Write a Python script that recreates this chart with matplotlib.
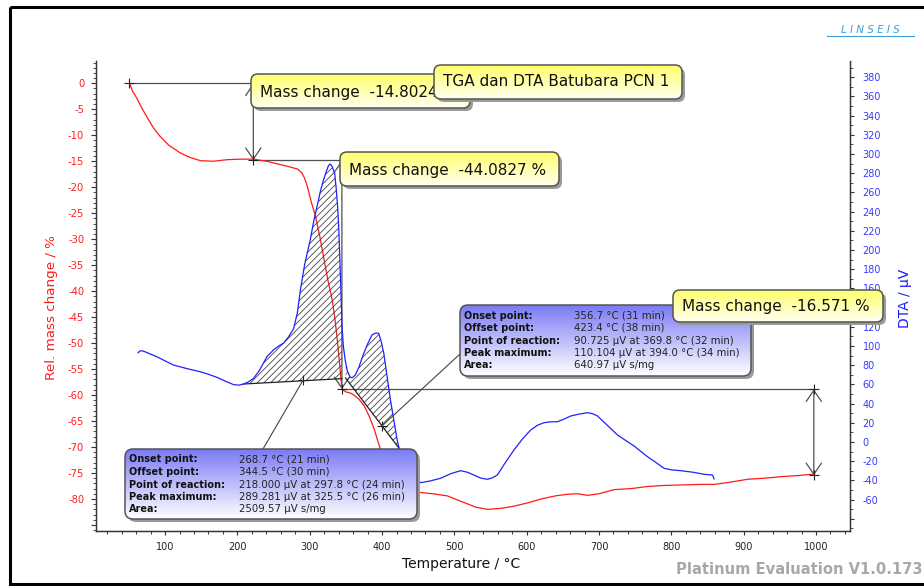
import numpy as np
import matplotlib
matplotlib.use("Agg")
import matplotlib.pyplot as plt
from matplotlib.patches import FancyBboxPatch, Rectangle, ConnectionPatch
from matplotlib.ticker import MultipleLocator, FixedLocator, FuncFormatter
from matplotlib.colors import to_rgb

plt.rcParams['font.family'] = ['DejaVu Sans']
plt.rcParams['hatch.linewidth'] = 0.6

# ---------------- data ----------------
tga_temp = [51, 55, 61, 68, 75, 84, 93, 105, 121, 135, 149, 167, 186, 205, 222, 240, 255, 270,
            283, 289, 293, 297, 302, 308, 314, 319, 325, 331, 335, 338, 341, 343, 344.5, 350,
            356, 361, 368, 375, 382, 389, 394, 398, 405, 415, 430, 450, 470, 490, 510, 530,
            546, 565, 582, 600, 620, 640, 656, 670, 684, 700, 721, 745, 767, 790, 815, 840,
            859, 880, 906, 930, 952, 975, 998]
tga_mass = [0, -1.5, -2.9, -4.8, -6.5, -8.6, -10.2, -11.9, -13.4, -14.3, -14.9, -15.0, -14.7,
            -14.6, -14.6, -15.0, -15.5, -16.0, -16.5, -17.2, -18.3, -20.0, -22.8, -25.6, -29.5,
            -33.3, -37.8, -41.6, -45.5, -49.3, -53.5, -56.5, -58.9, -59.4, -59.6, -60.0, -60.8,
            -62.0, -64.0, -66.5, -68.8, -70.5, -73.5, -76.5, -78.2, -78.7, -79.0, -79.4, -80.5,
            -81.6, -82.0, -81.8, -81.4, -80.8, -80.0, -79.4, -79.1, -79.0, -79.3, -79.0, -78.2,
            -78.0, -77.6, -77.4, -77.3, -77.2, -77.2, -76.8, -76.2, -76.0, -75.7, -75.5, -75.2]

dta_temp = [62.8, 65, 67.7, 72.3, 80, 88.5, 100, 111.5, 130, 148.5, 160, 171.6, 183, 194.6, 202,
            208.4, 215, 222.3, 230, 240.8, 250, 258, 264, 270.8, 277.7, 283, 287, 293, 300.7,
            305, 310, 315, 319, 323, 326, 328.5, 331, 334.5, 336.5, 338.6, 340, 341.4, 343,
            344.7, 346.5, 349, 352, 356, 359, 363, 368, 374.7, 380, 386, 391, 395.4, 399, 402.4,
            407, 411.6, 416, 420.9, 424, 432, 442, 453.4, 467, 480.9, 495, 508.6, 518, 527, 536,
            545.5, 552, 559.4, 570, 582.4, 594, 605.5, 615, 624, 633, 642.5, 652, 661, 672, 684,
            691, 697.9, 712, 725.6, 737, 748.6, 758, 767, 778, 790, 800, 813, 830, 845.6, 857, 859]
dta_uv = [93.0, 94.8, 95.1, 94.0, 91.5, 88.9, 84.5, 80.2, 76.5, 73.2, 70.5, 67.4, 63.5, 59.8, 59.2,
          60.4, 62.5, 66.3, 74, 88.9, 96, 100.5, 103, 109.7, 118, 135, 158, 185, 210.4,
          228, 245, 262, 272.9, 282, 288, 289.6, 287, 279.9, 265, 245, 225, 196.5, 160,
          120.1, 100, 85.4, 74, 67.4, 67, 69.8, 78, 92.4, 102, 111.5, 113.5, 113.2, 104, 92.4,
          68, 43.75, 24, 2, -8, -22, -35, -42.4, -40.5, -37.8, -33, -29.9, -31.5, -34.4, -37.5,
          -38.9, -37.5, -34.4, -22, -8.3, 3, 12.5, 17.5, 20.1, 21, 21.1, 24, 27.1, 29, 30.5,
          29.5, 27.1, 17, 7.3, 1.5, -4.2, -10, -15.3, -21, -27.4, -29, -29.9, -31.5, -33.7, -34.4, -38.5]

# mass change steps
mass_step_temp = [50, 222, 344.5, 997]
mass_levels = [0, -14.8024, -58.8851, -75.4561]
mass_change_labels = ["Mass change  -14.8024 %", "Mass change  -44.0827 %", "Mass change  -16.571 %"]

# DTA peak evaluation (baselines and reaction markers)
peak1_base_temp = [208.4, 344.5]
peak1_base_uv = [60.4, 66.0]
peak2_base_temp = [349.5, 424]
peak2_base_uv = [66.7, -7.0]
reaction_temp = [291, 400]
reaction_uv = [64.7, 16.8]

peak1_rows = [("Onset point:", "268.7 °C (21 min)"),
              ("Offset point:", "344.5 °C (30 min)"),
              ("Point of reaction:", "218.000 µV at 297.8 °C (24 min)"),
              ("Peak maximum:", "289.281 µV at 325.5 °C (26 min)"),
              ("Area:", "2509.57 µV s/mg")]
peak2_rows = [("Onset point:", "356.7 °C (31 min)"),
              ("Offset point:", "423.4 °C (38 min)"),
              ("Point of reaction:", "90.725 µV at 369.8 °C (32 min)"),
              ("Peak maximum:", "110.104 µV at 394.0 °C (34 min)"),
              ("Area:", "640.97 µV s/mg")]

title_text = "TGA dan DTA Batubara PCN 1"

# ---------------- figure ----------------
W, H = 924, 586
fig = plt.figure(figsize=(W / 100, H / 100), dpi=100)
fig.patch.set_facecolor('white')

L, R, T, B = 96, 850, 61, 530.5
ax = fig.add_axes([L / W, 1 - B / H, (R - L) / W, (B - T) / H])
ax2 = ax.twinx()
ax.patch.set_alpha(0)

RED = '#ff1a1a'
BLUE = '#2020ff'
ax.set_xlim(4.5, 1047)
ax.set_ylim(-86.07, 4.29)
ax2.set_ylim(-92.2, 396.9)

# curves
ax.plot(tga_temp, tga_mass, color=RED, lw=0.9, zorder=3)
ax2.plot(dta_temp, dta_uv, color=BLUE, lw=0.9, zorder=3)

# hatched peak areas
def hatch_peak(bt, bu):
    tt = np.linspace(bt[0], bt[1], 300)
    curve = np.interp(tt, dta_temp, dta_uv)
    base = np.interp(tt, bt, bu)
    ax2.fill_between(tt, curve, base, where=curve >= base, facecolor='none',
                     edgecolor='#444444', hatch='/////', linewidth=0, zorder=2)
    ax2.plot(bt, bu, color='#222222', lw=0.9, zorder=2.5)

hatch_peak(peak1_base_temp, peak1_base_uv)
hatch_peak(peak2_base_temp, peak2_base_uv)
ax2.plot(reaction_temp, reaction_uv, '+', color='#222222', ms=7, mew=0.8, zorder=4)

# mass change annotations
GRAY = '#505050'
for i in range(3):
    t0, t1 = mass_step_temp[i], mass_step_temp[i + 1]
    m0, m1 = mass_levels[i], mass_levels[i + 1]
    ax.plot([t0, t1], [m0, m0], color=GRAY, lw=0.9, zorder=2)
    ax.annotate('', xy=(t1, m1), xytext=(t1, m0),
                arrowprops=dict(arrowstyle='<->,head_length=0.8,head_width=0.55', color=GRAY,
                                lw=0.9, shrinkA=0, shrinkB=0, mutation_scale=10), zorder=2)
ax.plot(mass_step_temp[:-1], mass_levels[:-1], '+', color='#222222', ms=7, mew=0.8, zorder=4)
ax.plot(mass_step_temp[-1], mass_levels[-1], '+', color='#222222', ms=7, mew=0.8, zorder=4)
ax.plot(mass_step_temp[-1], mass_levels[-2], '+', color='#222222', ms=7, mew=0.8, zorder=4)

# axes styling
for a in (ax, ax2):
    a.spines['top'].set_visible(False)
    for s in ('left', 'right', 'bottom'):
        a.spines[s].set_color('#333333')
        a.spines[s].set_linewidth(0.9)

ax.xaxis.set_major_locator(MultipleLocator(100))
ax.xaxis.set_minor_locator(MultipleLocator(20))
ax.tick_params(axis='x', which='major', length=3, width=0.8, colors='#333333',
               labelsize=7, labelcolor='#222222', pad=5)
ax.tick_params(axis='x', which='minor', length=2, width=0.7, colors='#333333')

ax.yaxis.set_major_locator(FixedLocator(np.arange(-85, 1, 5)))
ax.yaxis.set_minor_locator(MultipleLocator(1))
ax.yaxis.set_major_formatter(FuncFormatter(lambda v, p: '' if v < -82 else f'{v:.0f}'))
ax.tick_params(axis='y', which='major', length=3.5, width=0.8, colors='#333333',
               labelsize=7.2, labelcolor='#ff2020', pad=5)
ax.tick_params(axis='y', which='minor', length=2, width=0.6, colors='#333333')

ax2.yaxis.set_major_locator(FixedLocator(np.arange(-80, 381, 20)))
ax2.yaxis.set_minor_locator(MultipleLocator(10))
ax2.yaxis.set_major_formatter(FuncFormatter(lambda v, p: '' if v < -70 else f'{v:.0f}'))
ax2.tick_params(axis='y', which='major', length=3, width=0.8, colors='#333333',
                labelsize=7, labelcolor='#3a3aff', pad=6)
ax2.tick_params(axis='y', which='minor', length=2, width=0.6, colors='#333333')

# ---------------- overlay (boxes, labels, frame) ----------------
ov = fig.add_axes([0, 0, 1, 1])
ov.set_zorder(10)
ov.patch.set_alpha(0)
ov.axis('off')

def gbox(x0, y0, x1, y1, ctop, cbot, z, r=7, ec='#555555'):
    w, h = x1 - x0, y1 - y0
    sh = FancyBboxPatch((x0 + 3, y0 + 3), w, h, boxstyle=f"round,pad=0,rounding_size={r}",
                        fc='#9a9a9a', ec='none', zorder=z)
    ov.add_patch(sh)
    bg = FancyBboxPatch((x0, y0), w, h, boxstyle=f"round,pad=0,rounding_size={r}",
                        fc='white', ec='none', zorder=z + 0.05)
    ov.add_patch(bg)
    c1, c2 = np.array(to_rgb(ctop)), np.array(to_rgb(cbot))
    f = np.linspace(0, 1, 64)[:, None, None]
    img = c1[None, None, :] * (1 - f) + c2[None, None, :] * f
    img = np.repeat(img, 2, axis=1)
    im = ov.imshow(img, extent=(x0, x1, y1, y0), aspect='auto', zorder=z + 0.1,
                   interpolation='bilinear')
    border = FancyBboxPatch((x0, y0), w, h, boxstyle=f"round,pad=0,rounding_size={r}",
                            fc='none', ec=ec, lw=1.1, zorder=z + 0.2)
    ov.add_patch(border)
    im.set_clip_path(border)

YT, YB = '#ffff6a', '#fffff2'
BT, BB = '#7b7bf5', '#ffffff'

# box 1 (partly covered by title)
gbox(251, 74, 470, 108, YT, YB, 1)
ov.text(260, 92, mass_change_labels[0], fontsize=11, ha='left', va='center', color='#111111', zorder=1.3)
# title box
gbox(434, 65, 682, 99, YT, YB, 2)
ov.text(443, 82, title_text, fontsize=11, ha='left', va='center', color='#111111', zorder=2.3)
# box 2
gbox(340, 152, 559, 186, YT, YB, 3)
ov.text(349, 170, mass_change_labels[1], fontsize=11, ha='left', va='center', color='#111111', zorder=3.3)

# peak boxes
def peak_box(x0, y0, x1, y1, rows, z, lx, vx, ys):
    gbox(x0, y0, x1, y1, BT, BB, z, r=8)
    for (lab, val), yy in zip(rows, ys):
        ov.text(lx, yy, lab, fontsize=7, fontweight='bold', ha='left', va='center',
                color='#111111', zorder=z + 0.3)
        ov.text(vx, yy, val, fontsize=7.3, ha='left', va='center', color='#222222', zorder=z + 0.3)

peak_box(125, 449, 417, 519, peak1_rows, 4, 129, 239, [459.5, 472, 484.5, 497, 509.5])
peak_box(460, 305, 751, 376, peak2_rows, 5, 464, 574, [315.7, 328, 340.5, 353, 365.5])

# box 3 (over peak box 2)
gbox(673, 290, 883, 322, YT, YB, 6)
ov.text(682, 306, mass_change_labels[2], fontsize=11, ha='left', va='center', color='#111111', zorder=6.3)

# connectors from peak boxes to reaction markers
for (px, py), rt, ru in zip([(263, 449), (460, 354)], reaction_temp, reaction_uv):
    cp = ConnectionPatch(xyA=(px, py), coordsA=ov.transData, xyB=(rt, ru), coordsB=ax2.transData,
                         color='#444444', lw=0.8, zorder=0.5)
    ov.add_artist(cp)

# axis labels
ov.text(52, 308, 'Rel. mass change / %', rotation=90, ha='center', va='center',
        fontsize=9.7, color='#ff1a1a')
ov.text(905, 298, 'DTA / µV', rotation=90, ha='center', va='center', fontsize=10, color='#1a1aff')
ov.text(461, 564, 'Temperature / °C', ha='center', va='center', fontsize=10, color='#111111')

# logo and footer
ov.text(870, 30, 'L I N S E I S', ha='center', va='center', fontsize=7.5, style='italic',
        color='#3a9fd0')
ov.plot([827, 914], [35.5, 35.5], color='#3a9fd0', lw=0.8)
ov.text(922, 570, 'Platinum Evaluation V1.0.173', ha='right', va='center', fontsize=10.6,
        fontweight='bold', color='#a8a8a8')

# outer frame
ov.add_patch(Rectangle((10, 7), 940, 577, fill=False, ec='black', lw=2.2, zorder=20))

ov.set_xlim(0, W)
ov.set_ylim(H, 0)

fig.savefig('out.png', dpi=100)
